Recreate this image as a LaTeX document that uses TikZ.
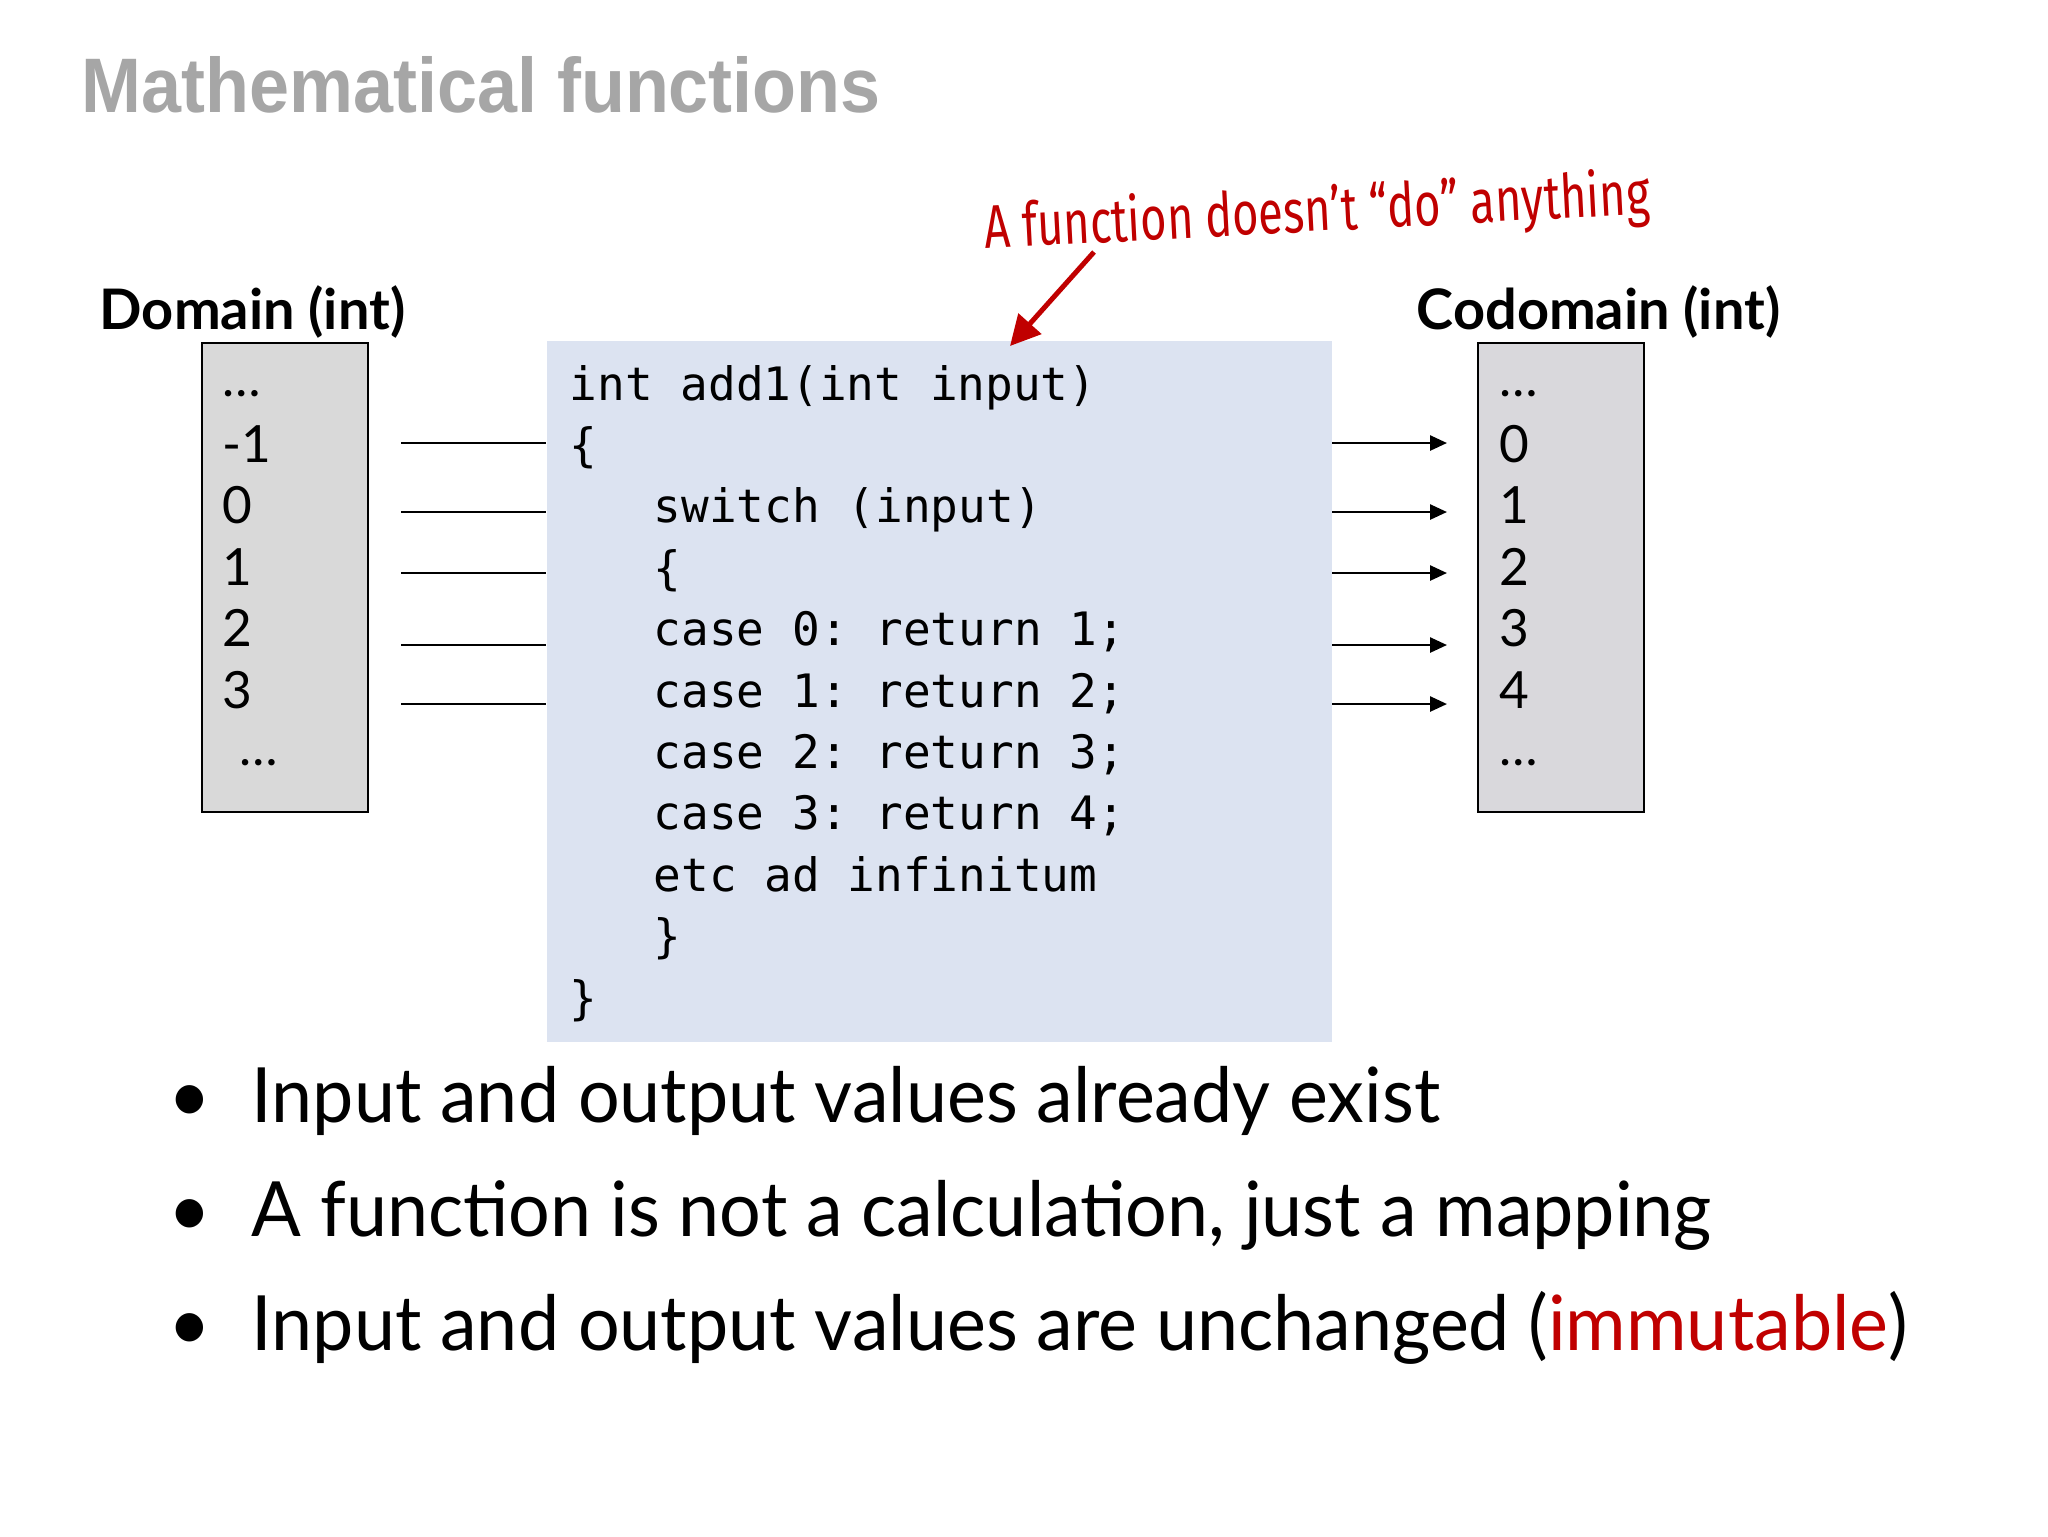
\documentclass[tikz,border=0pt]{standalone}
\usepackage{fontspec}
\usetikzlibrary{arrows.meta}
\setmainfont{Lato}
\newfontfamily\titlefont[FakeStretch=0.93]{Liberation Sans}
\newfontfamily\codefont{DejaVu Sans Mono}
\newfontfamily\notefont[FakeStretch=0.74]{Fira Sans}
\newfontfamily\itemfont[FakeStretch=0.965]{Lato}
\definecolor{titlegray}{HTML}{A6A6A6}
\definecolor{setgray}{HTML}{D9D9D9}
\definecolor{cosetgray}{HTML}{D9D8DC}
\definecolor{codeblue}{HTML}{DCE3F1}
\definecolor{notered}{HTML}{C00000}

\begin{document}
\begin{tikzpicture}[x=0.1mm, y=-0.1mm, >={Triangle[length=1.7mm,width=1.5mm]},
  setbox/.style={draw, line width=0.2mm, fill=setgray, inner sep=0, anchor=north west, minimum width=16.6mm, minimum height=46.9mm},
  codebox/.style={fill=codeblue, inner sep=0, anchor=north west, minimum width=78.5mm, minimum height=70.1mm},
  setname/.style={anchor=base west, inner sep=0, font=\fontsize{15.9}{19}\bfseries\selectfont},
  entry/.style={anchor=base west, inner sep=0, font=\fontsize{14.6}{17}\selectfont},
  codeline/.style={anchor=base west, inner sep=0, font=\fontsize{13.1}{16}\codefont\frenchspacing},
  bullet/.style={anchor=base west, inner sep=0, font=\fontsize{21.7}{26}\itemfont},
  wire/.style={line width=0.26mm},
  notearrow/.style={->, >={Triangle[length=3mm,width=3mm]}, draw=notered, line width=0.5mm}]
\useasboundingbox (0,0) rectangle (2048,1536);
\node[anchor=base west, inner sep=0, text=titlegray, font=\fontsize{22}{26}\titlefont\bfseries] (title) at (81,112) {Mathematical functions};
\node[codebox] (code) at (546,340) {};
\node[setbox] (dom) at (201,342) {};
\node[setbox, fill=cosetgray] (cod) at (1477,342) {};
\node[setname] (domname) at (99,329) {Domain (int)};
\node[setname] (codname) at (1416,329) {Codomain (int)};
\node[entry] (d0) at (222,396) {…};
\foreach \v [count=\i] in {-1,0,1,2,3}
  \node[entry] (d\i) at (222,{401+61.4*\i}) {\v};
\node[entry] (d6) at (239,765) {…};
\node[entry] (c0) at (1499,396) {…};
\foreach \v [count=\i] in {0,1,2,3,4}
  \node[entry] (c\i) at (1499,{401+61.4*\i}) {\v};
\node[entry] (c6) at (1499,765) {…};
\foreach \codetext/\cx [count=\k from 0] in {{int add1(int input)}/569, \{/569, {switch (input)}/653, \{/653, {case 0: return 1;}/653, {case 1: return 2;}/653, {case 2: return 3;}/653, {case 3: return 4;}/653, {etc ad infinitum}/653, \}/653, \}/569}
  \node[codeline] (ln\k) at (\cx,{400+61.4*\k}) {\codetext};
\foreach \y [count=\i] in {443,512,573,645,704} {
  \coordinate (in\i) at (401,\y);
  \coordinate (out\i) at (1447,\y);
  \draw[wire] (in\i) -- (in\i -| code.west);
  \draw[wire,->] (out\i -| code.east) -- (out\i);
}
\node[rotate=3, inner sep=0, text=notered, font=\fontsize{17.4}{20}\notefont] (note) at (1317,214) {A function doesn’t “do” anything};
\coordinate (notefoot) at (1094,252);
\coordinate (notetip) at (1010,346);
\draw[notearrow] (notefoot) -- (notetip);
\foreach \btext [count=\i] in {{Input and output values already exist}, {A function is not a calculation, just a mapping}, {Input and output values are unchanged (\textcolor{notered}{immutable})}} {
  \node[bullet] (dot\i) at (168,{1122+114*(\i-1)}) {•};
  \node[bullet] (item\i) at (251,{1122+114*(\i-1)}) {\btext};
}
\end{tikzpicture}
\end{document}
